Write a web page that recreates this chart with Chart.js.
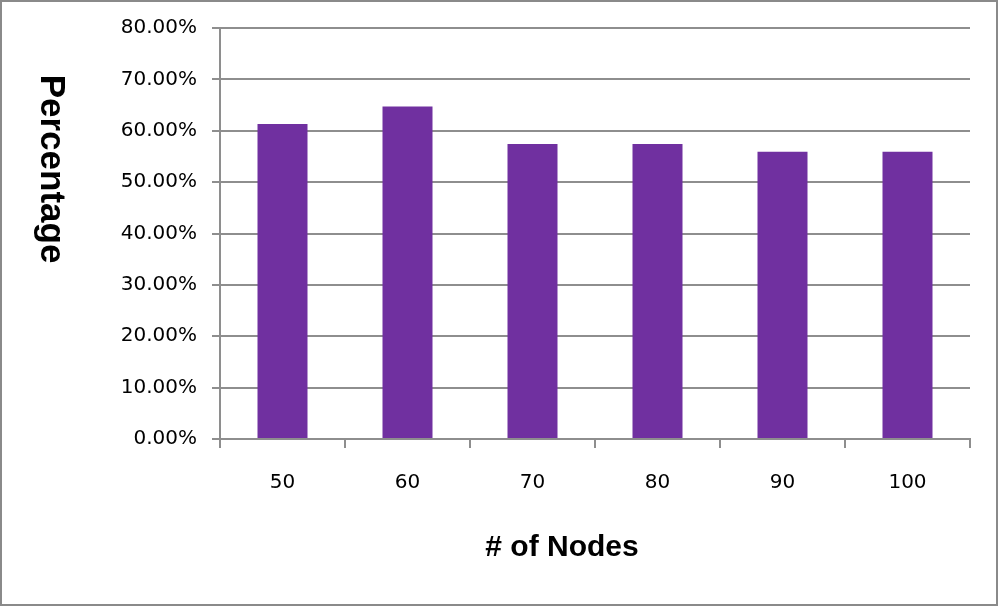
<!DOCTYPE html>
<html>
<head>
<meta charset="utf-8">
<script src="https://cdn.jsdelivr.net/npm/chart.js@4"></script>
<style>
  html, body { margin: 0; padding: 0; background: #fff; }
  #wrap { width: 1000px; height: 608px; }
</style>
</head>
<body>
<div id="wrap"><canvas id="myChart" width="1000" height="608"></canvas></div>
<script>
// data
const nodes = ["50", "60", "70", "80", "90", "100"];
const percentage = [61.3, 64.7, 57.4, 57.4, 55.9, 55.9];
const yTicks = [0, 10, 20, 30, 40, 50, 60, 70, 80];
const xTitle = "# of Nodes";
const yTitle = "Percentage";

const gridGray = "#8e8e8e";
const tickFont = { family: "DejaVu Sans", size: 20 };

/* frame + axis titles */
const decor = {
  id: "decor",
  afterDraw(chart) {
    const ctx = chart.ctx;
    ctx.save();
    ctx.strokeStyle = "#8a8a8a";
    ctx.lineWidth = 2;
    ctx.strokeRect(1, 1, 996, 604);

    ctx.fillStyle = "#000";
    ctx.font = "bold 30px 'Liberation Sans'";
    ctx.textAlign = "center";
    ctx.textBaseline = "middle";
    ctx.fillText(xTitle, 562, 548);

    ctx.translate(51, 169);
    ctx.rotate(Math.PI / 2);
    ctx.font = "bold 35px 'Liberation Sans'";
    ctx.fillText(yTitle, 0, 0);
    ctx.restore();
  }
};

const ctx = document.getElementById("myChart").getContext("2d");

new Chart(ctx, {
  type: "bar",
  data: {
    labels: nodes,
    datasets: [{
      label: "Percentage",
      data: percentage,
      backgroundColor: "#7030a0",
      borderWidth: 0,
      barPercentage: 0.4,
      categoryPercentage: 1
    }]
  },
  options: {
    responsive: false,
    animation: false,
    layout: { padding: { left: 0, right: 30, top: 28, bottom: 0 } },
    plugins: {
      legend: { display: false },
      tooltip: { enabled: false }
    },
    scales: {
      x: {
        grid: {
          display: true,
          drawOnChartArea: false,
          drawTicks: true,
          tickLength: 9,
          color: gridGray,
          lineWidth: 2
        },
        border: { color: gridGray, width: 2 },
        ticks: { color: "#000", font: tickFont, padding: 23, maxRotation: 0 },
        afterFit(scale) { scale.height = 169; }
      },
      y: {
        min: 0,
        max: 80,
        afterBuildTicks(scale) {
          scale.ticks = yTicks.map(v => ({ value: v }));
        },
        grid: {
          color: gridGray,
          lineWidth: 2,
          tickLength: 8
        },
        border: { color: gridGray, width: 2 },
        ticks: {
          color: "#000",
          font: tickFont,
          padding: 15,
          callback: v => v.toFixed(2) + "%"
        },
        afterFit(scale) { scale.width = 220; }
      }
    }
  },
  plugins: [decor]
});
</script>
</body>
</html>
